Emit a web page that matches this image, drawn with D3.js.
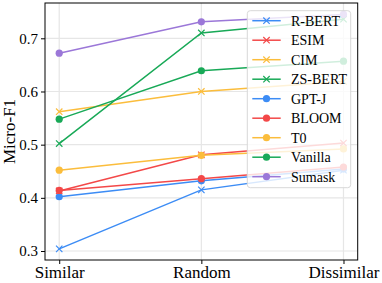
<!DOCTYPE html>
<html>
<head>
<meta charset="utf-8">
<script src="https://cdn.jsdelivr.net/npm/d3@7"></script>
<style>
body { margin: 0; background: #fff; }
text { font-family: "Liberation Serif", "Times New Roman", serif; fill: #000; }
</style>
</head>
<body>
<div id="chart"></div>
<script>
var svgWidth = 382;
var svgHeight = 283;

var categories = ["Similar", "Random", "Dissimilar"];
var yTicks = [0.3, 0.4, 0.5, 0.6, 0.7];

var names = ["R-BERT", "ESIM", "CIM", "ZS-BERT", "GPT-J", "BLOOM", "T0", "Vanilla", "Sumask"];
var rbert = [0.304, 0.415, 0.452];
var esim = [0.413, 0.481, 0.503];
var cim = [0.562, 0.600, 0.619];
var zsbert = [0.502, 0.710, 0.736];
var gptj = [0.402, 0.432, 0.454];
var bloom = [0.414, 0.436, 0.458];
var t0 = [0.452, 0.480, 0.492];
var vanilla = [0.548, 0.639, 0.657];
var sumask = [0.672, 0.731, 0.745];

var blue = "#3c8cf5", red = "#f34848", yellow = "#fbbd3c", green = "#18a957", purple = "#9b77d8";

var series = [
    { name: names[0], values: rbert, color: blue, marker: "x" },
    { name: names[1], values: esim, color: red, marker: "x" },
    { name: names[2], values: cim, color: yellow, marker: "x" },
    { name: names[3], values: zsbert, color: green, marker: "x" },
    { name: names[4], values: gptj, color: blue, marker: "o" },
    { name: names[5], values: bloom, color: red, marker: "o" },
    { name: names[6], values: t0, color: yellow, marker: "o" },
    { name: names[7], values: vanilla, color: green, marker: "o" },
    { name: names[8], values: sumask, color: purple, marker: "o" }
];

var plotLeft = 45, plotRight = 357.7, plotTop = 3, plotBottom = 260;

var svg = d3.select("#chart")
    .append("svg")
    .attr("width", svgWidth)
    .attr("height", svgHeight);

var xScale = d3.scaleLinear()
    .domain([-0.1, 2.1])
    .range([plotLeft, plotRight]);

var yScale = d3.scaleLinear()
    .domain([0.2831, 0.7664])
    .range([plotBottom, plotTop]);

// grid
svg.append("g")
    .selectAll("line")
    .data(yTicks)
    .enter()
    .append("line")
    .attr("x1", plotLeft).attr("x2", plotRight)
    .attr("y1", function(d) { return yScale(d); })
    .attr("y2", function(d) { return yScale(d); })
    .attr("stroke", "#e6e6e6")
    .attr("stroke-width", 1.2);

svg.append("g")
    .selectAll("line")
    .data(categories)
    .enter()
    .append("line")
    .attr("y1", plotTop).attr("y2", plotBottom)
    .attr("x1", function(d, i) { return xScale(i); })
    .attr("x2", function(d, i) { return xScale(i); })
    .attr("stroke", "#e6e6e6")
    .attr("stroke-width", 1.2);

// axes
var xAxis = d3.axisBottom(xScale)
    .tickValues([0, 1, 2])
    .tickFormat(function(d) { return categories[d]; })
    .tickSize(4)
    .tickSizeOuter(0);

var yAxis = d3.axisLeft(yScale)
    .tickValues(yTicks)
    .tickFormat(d3.format(".1f"))
    .tickSize(4)
    .tickSizeOuter(0);

var gx = svg.append("g")
    .attr("transform", "translate(0," + plotBottom + ")")
    .call(xAxis);
gx.select(".domain").remove();
gx.selectAll("text")
    .attr("font-size", 17)
    .attr("y", 6)
    .attr("dy", "0.71em")
    .attr("font-family", "Liberation Serif, serif");
gx.selectAll("line").attr("stroke", "#000");

var gy = svg.append("g")
    .attr("transform", "translate(" + plotLeft + ",0)")
    .call(yAxis);
gy.select(".domain").remove();
gy.selectAll("text")
    .attr("font-size", 15)
    .attr("font-family", "Liberation Serif, serif");
gy.selectAll("line").attr("stroke", "#000");

svg.append("text")
    .attr("transform", "translate(15," + ((plotTop + plotBottom) / 2) + ")rotate(-90)")
    .attr("text-anchor", "middle")
    .attr("font-size", 17)
    .text("Micro-F1");

// lines
var line = d3.line()
    .x(function(d, i) { return xScale(i); })
    .y(function(d) { return yScale(d); });

function drawMarker(g, type, x, y, color) {
    if (type === "x") {
        var s = 3.2;
        g.append("path")
            .attr("d", "M" + (x - s) + "," + (y - s) + "L" + (x + s) + "," + (y + s) +
                "M" + (x - s) + "," + (y + s) + "L" + (x + s) + "," + (y - s))
            .attr("stroke", color)
            .attr("stroke-width", 1.2)
            .attr("fill", "none");
    } else {
        g.append("circle")
            .attr("cx", x).attr("cy", y)
            .attr("r", 3.6)
            .attr("fill", color);
    }
}

var plot = svg.append("g");
series.forEach(function(s) {
    var g = plot.append("g");
    g.append("path")
        .datum(s.values)
        .attr("d", line)
        .attr("fill", "none")
        .attr("stroke", s.color)
        .attr("stroke-width", 1.5);
    s.values.forEach(function(v, i) {
        drawMarker(g, s.marker, xScale(i), yScale(v), s.color);
    });
});

// frame
svg.append("rect")
    .attr("x", plotLeft).attr("y", plotTop)
    .attr("width", plotRight - plotLeft).attr("height", plotBottom - plotTop)
    .attr("fill", "none")
    .attr("stroke", "#000")
    .attr("stroke-width", 1);

// legend
var legX = 247.3, legY = 10.7, legW = 103.4, legH = 177, rowH = 19.5;
var legend = svg.append("g");
legend.append("rect")
    .attr("x", legX).attr("y", legY)
    .attr("width", legW).attr("height", legH)
    .attr("rx", 3)
    .attr("fill", "rgba(255,255,255,0.8)")
    .attr("stroke", "#d8d8d8")
    .attr("stroke-width", 1);

series.forEach(function(s, i) {
    var cy = 20.7 + i * rowH;
    legend.append("line")
        .attr("x1", 252.3).attr("x2", 280.7)
        .attr("y1", cy).attr("y2", cy)
        .attr("stroke", s.color)
        .attr("stroke-width", 1.5);
    drawMarker(legend, s.marker, 266.5, cy, s.color);
    legend.append("text")
        .attr("x", 291)
        .attr("y", cy)
        .attr("dy", "0.35em")
        .attr("font-size", 14)
        .text(s.name);
});
</script>
</body>
</html>
